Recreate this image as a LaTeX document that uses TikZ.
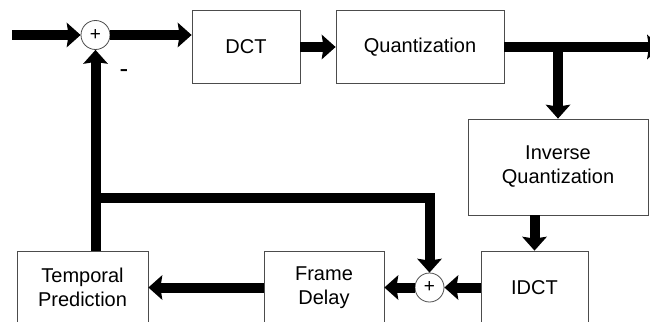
\documentclass[tikz,border=0pt]{standalone}
\usepackage{fontspec}
\setmainfont{Liberation Sans}
\usetikzlibrary{arrows.meta,calc}

\begin{document}
\begin{tikzpicture}[x=1pt, y=-1pt,
      every node/.style={font=\fontsize{20}{24}\selectfont},
      block/.style={draw=black!70, line width=0.8pt, align=center, inner sep=0pt, minimum height=73pt},
      adder/.style={draw=black!70, line width=0.8pt, fill=white, circle, inner sep=0pt, minimum size=29pt, font=\fontsize{19}{19}\selectfont},
      flow/.style={line width=10pt, -{Stealth[length=14pt, width=25pt, inset=2pt, line width=0pt]}}]
    \useasboundingbox (0,0) rectangle (650,321);
    \clip (0,0) rectangle (650,321);
    % forward path
    \node[adder] (sum) at (95.5,35) {+};
    \node[block, minimum width=108pt] (dct) at (246,47) {DCT};
    \node[block, minimum width=168pt] (quant) at (420,47) {Quantization};
    \node[block, minimum width=180pt, minimum height=96pt] (iquant) at (558,167) {Inverse\\Quantization};
    \node[block, minimum width=107pt] (idct) at (534.5,287.5) {IDCT};
    % reconstruction loop
    \node[adder] (rec) at (429.5,287.5) {+};
    \node[block, minimum width=120pt] (delay) at (324,287.5) {Frame\\Delay};
    \node[block, minimum width=131pt] (pred) at (82.5,287.5) {Temporal\\Prediction};
    \node[font=\fontsize{26}{26}\selectfont] (minus) at (124,74) {-};
    \coordinate (input) at (12,35);
    \coordinate (output) at (661,47);
    \coordinate (tap) at (95.5,197.5);
    \draw[flow] (input) -- (sum);
    \draw[flow] (sum) -- (sum -| dct.west);
    \draw[flow] (dct) -- (quant);
    \draw[flow] (quant.east) -- (output);
    \draw[flow] (quant.east -| iquant.north) -- (iquant.north);
    \draw[flow] (iquant.south -| idct) -- (idct.north);
    \draw[flow] (idct) -- (rec);
    \draw[flow] (rec) -- (delay);
    \draw[flow] (delay) -- (pred);
    \draw[flow] (pred.north -| sum) -- (sum);
    \draw[flow] (tap) -| (rec);
  \end{tikzpicture}
\end{document}
